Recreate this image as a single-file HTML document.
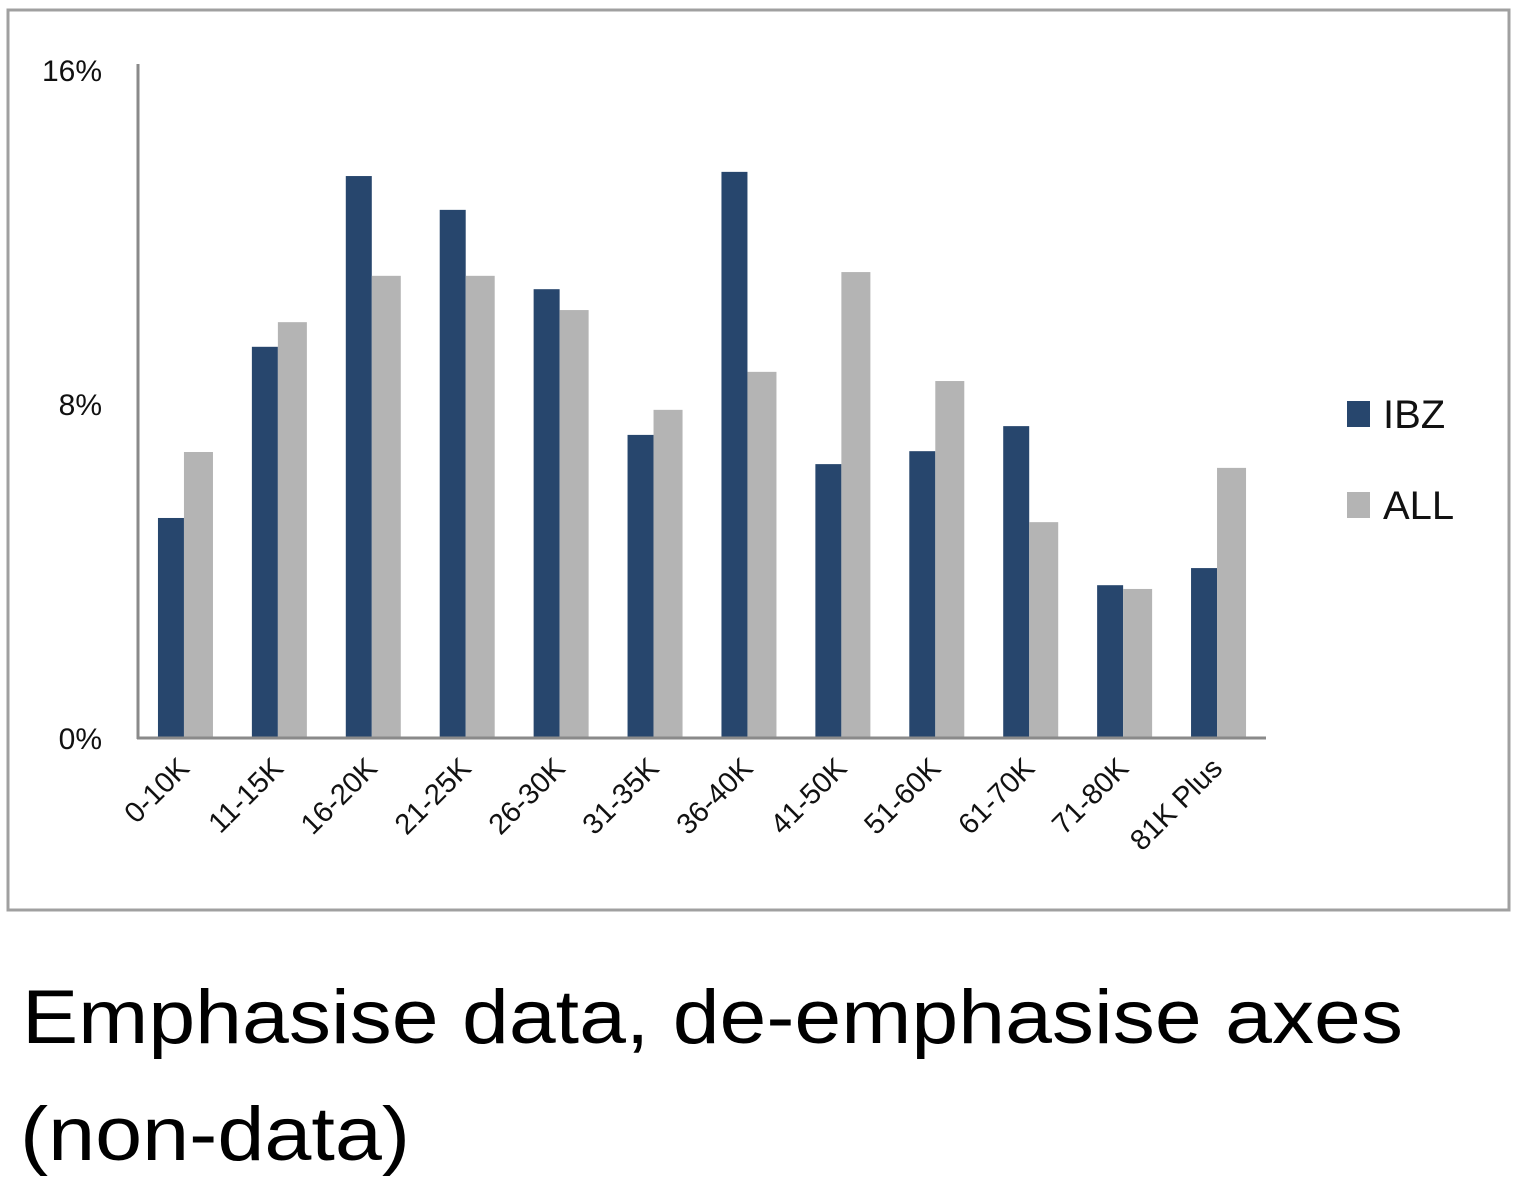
<!DOCTYPE html>
<html><head><meta charset="utf-8"><style>
html,body{margin:0;padding:0;background:#fff;}
svg{display:block;font-family:"Liberation Sans",sans-serif;}
</style></head><body>
<svg id="chart" width="1521" height="1196">
<rect x="8" y="10" width="1501" height="900" fill="none" stroke="#a0a0a0" stroke-width="3"/>
<g id="bars"></g>
<line x1="138" y1="64" x2="138" y2="739" stroke="#8a8a8a" stroke-width="3"/>
<line x1="137" y1="738" x2="1266" y2="738" stroke="#8a8a8a" stroke-width="3"/>
<g id="yticks"></g>
<g id="xticks"></g>
<rect x="1347" y="401" width="23" height="26" fill="#27466d"/>
<text x="1383" y="428" font-size="40" fill="#111">IBZ</text>
<rect x="1347" y="492" width="23" height="26" fill="#b4b4b4"/>
<text x="1383" y="519" font-size="40" fill="#111">ALL</text>
<text x="22" y="1043" font-size="76" textLength="1381" lengthAdjust="spacingAndGlyphs" fill="#000">Emphasise data, de-emphasise axes</text>
<text x="20" y="1160" font-size="76" textLength="390" lengthAdjust="spacingAndGlyphs" fill="#000">(non-data)</text>
</svg>
<script>
const categories=["0-10K","11-15K","16-20K","21-25K","26-30K","31-35K","36-40K","41-50K","51-60K","61-70K","71-80K","81K Plus"];
const ibz=[5.27,9.37,13.46,12.65,10.75,7.26,13.56,6.56,6.87,7.47,3.66,4.07];
const all=[6.85,9.96,11.07,11.07,10.25,7.86,8.77,11.16,8.55,5.17,3.57,6.47];
const yTicks=[0,8,16];
const yTickLabels=["0%","8%","16%"];
const NS="http://www.w3.org/2000/svg";
const x0=138,x1=1265,y0=738,pxPer=41.75;
const band=(x1-x0)/categories.length;
const yScale=v=>y0-v*pxPer;
const xCenter=i=>x0+band*(i+0.5);
const bw=26;
const gb=document.getElementById('bars');
function mk(tag,attrs){const e=document.createElementNS(NS,tag);for(const k in attrs)e.setAttribute(k,attrs[k]);return e;}
categories.forEach((c,i)=>{
  const cx=xCenter(i)-1;
  const r1=mk('rect',{x:cx-bw,y:yScale(ibz[i]),width:bw,height:y0-yScale(ibz[i]),fill:'#27466d'});
  
  
  gb.appendChild(r1);
  const r2=mk('rect',{x:cx,y:yScale(all[i]),width:bw+3,height:y0-yScale(all[i]),fill:'#b4b4b4'});
  
  
  gb.appendChild(r2);
  const t=mk('text',{x:0,y:0,'font-size':29,fill:'#111','text-anchor':'end',transform:`translate(${xCenter(i)+6},${y0+32}) rotate(-45)`});
  t.textContent=c;
  
  
  document.getElementById('xticks').appendChild(t);
});
yTicks.forEach((v,i)=>{
  const t=mk('text',{x:102,y:yScale(v)+11,'font-size':30,fill:'#111','text-anchor':'end'});
  t.textContent=yTickLabels[i];
  
  
  document.getElementById('yticks').appendChild(t);
});
</script>
</body></html>
